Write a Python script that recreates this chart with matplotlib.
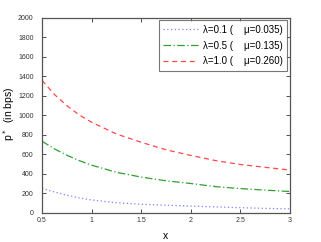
import matplotlib
matplotlib.use("Agg")
import matplotlib.pyplot as plt

plt.rcParams['font.family'] = ['Liberation Sans', 'DejaVu Sans']

# values
x = [0.5, 0.625, 0.75, 0.875, 1.0, 1.25, 1.5, 1.75, 2.0, 2.25, 2.5, 2.75, 3.0]
p_l01 = [252, 215, 183, 155, 133, 105, 89, 80, 70, 62, 54, 47, 42]
p_l05 = [735, 657, 592, 537, 490, 417, 368, 330, 302, 270, 250, 234, 220]
p_l10 = [1360, 1215, 1100, 1005, 930, 810, 725, 648, 590, 537, 497, 468, 440]
labels = [u"\u03bb=0.1 (    \u03bc=0.035)",
          u"\u03bb=0.5 (    \u03bc=0.135)",
          u"\u03bb=1.0 (    \u03bc=0.260)"]

fig = plt.figure(figsize=(3.21, 2.42), dpi=100)
ax = fig.add_axes([0.131, 0.12, 0.772, 0.806])

ax.plot(x, p_l01, color="#8080ff", ls=(0, (1, 2)), lw=0.9, label=labels[0])
ax.plot(x, p_l05, color="#30a030", ls=(0, (6, 2, 1, 2)), lw=0.9, label=labels[1])
ax.plot(x, p_l10, color="#ff4848", ls=(0, (4, 3)), lw=0.9, label=labels[2])

ax.set_xlim(0.5, 3)
ax.set_ylim(0, 2000)
ax.set_xticks([0.5, 1, 1.5, 2, 2.5, 3])
ax.set_xticklabels(["0.5", "1", "1.5", "2", "2.5", "3"])
ax.set_yticks(range(0, 2001, 200))
ax.tick_params(direction="in", top=True, right=True, labelsize=5,
               length=3, width=0.6, colors="#333333")
ax.tick_params(axis="y", pad=6)
ax.tick_params(axis="x", pad=3)
for s in ax.spines.values():
    s.set_linewidth(0.9)
    s.set_color("#555555")

ax.set_xlabel("x", fontsize=7.5)
ax.xaxis.set_label_coords(0.5, -0.09)
ax.set_ylabel(r"p$^*$  (in bps)", fontsize=7.5)
ax.yaxis.set_label_coords(-0.1, 0.51)

leg = ax.legend(loc="upper right", fontsize=7, frameon=True, fancybox=False,
                edgecolor="#555555", handlelength=3.6, handletextpad=0.5,
                borderpad=0.45, labelspacing=0.6, borderaxespad=0.25)
leg.get_frame().set_linewidth(0.8)

fig.savefig("out.png", dpi=100)
